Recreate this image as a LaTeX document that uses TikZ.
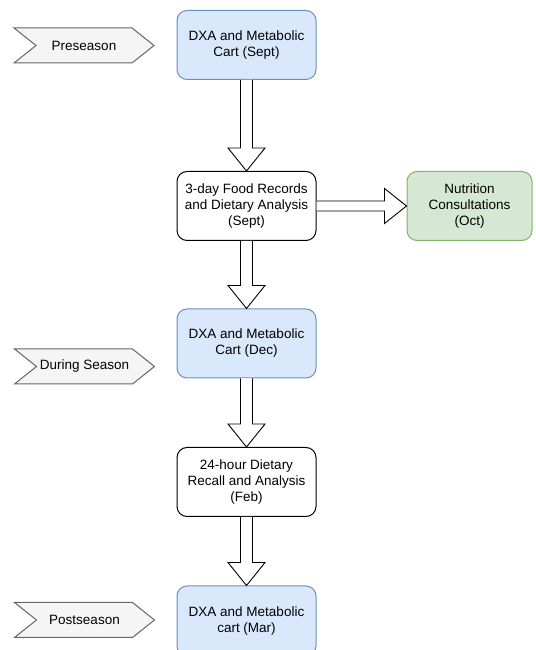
\documentclass[tikz,border=0pt]{standalone}
\usepackage{fontspec}
\setmainfont{Liberation Sans}
\usetikzlibrary{calc}
\definecolor{bluefill}{HTML}{DAE8FC}
\definecolor{blueline}{HTML}{6C8EBF}
\definecolor{greenfill}{HTML}{D5E8D4}
\definecolor{greenline}{HTML}{82B366}
\definecolor{grayfill}{HTML}{F5F5F5}
\definecolor{grayline}{HTML}{666666}
\tikzset{
  box/.style={draw, rounded corners=10pt, line width=1pt, minimum width=139pt,
    minimum height=69pt, align=center, inner sep=2pt,
    font=\fontsize{13.5}{16}\selectfont},
  bluebox/.style={box, fill=bluefill, draw=blueline},
  whitebox/.style={box, fill=white, draw=black},
  greenbox/.style={box, fill=greenfill, draw=greenline, minimum width=125pt},
  chevshape/.style={fill=grayfill, draw=grayline, line width=1pt},
  chevtext/.style={font=\fontsize{13.5}{16}\selectfont, inner sep=0pt},
  blockarrow/.style={draw=black, fill=white, line width=0.9pt, line join=miter},
}
\begin{document}
\begin{tikzpicture}[x=1pt,y=1pt]
\useasboundingbox (0,0) rectangle (535,650);
\clip (0,0) rectangle (535,650);
% boxes
\node[bluebox] (b1) at (246.5,605) {DXA and Metabolic\\Cart (Sept)};
\node[whitebox] (b2) at (246.5,444) {3-day Food Records\\and Dietary Analysis\\(Sept)};
\node[greenbox] (nut) at (469.5,444) {Nutrition\\Consultations\\(Oct)};
\node[bluebox] (b3) at (246.5,306.5) {DXA and Metabolic\\Cart (Dec)};
\node[whitebox] (b4) at (246.5,168) {24-hour Dietary\\Recall and Analysis\\(Feb)};
\node[bluebox, minimum height=70pt] (b5) at (246.5,29) {DXA and Metabolic\\cart (Mar)};
% chevrons
\coordinate (c1) at (84,604.5);
\coordinate (c2) at (84.5,283.5);
\coordinate (c3) at (84.5,30);
\foreach \c in {c1,c2,c3}{
  \draw[chevshape] ($(\c)+(-70,17.5)$) -- ++(118,0) -- ++(22,-17.5) -- ++(-22,-17.5)
    -- ++(-118,0) -- ++(22,17.5) -- cycle;
}
\node[chevtext] (pre) at (c1) {Preseason};
\node[chevtext] (dur) at (c2) {During Season};
\node[chevtext] (post) at (c3) {Postseason};
% vertical block arrows
\foreach \a/\b in {b1/b2,b2/b3,b3/b4,b4/b5}{
  \draw[blockarrow] ($(\a.south)+(-6,0)$) -- ($(\b.north)+(-6,23)$)
    -- ($(\b.north)+(-18.5,23)$) -- (\b.north) -- ($(\b.north)+(18.5,23)$)
    -- ($(\b.north)+(6,23)$) -- ($(\a.south)+(6,0)$);
}
% horizontal block arrow
\draw[blockarrow] ($(b2.east)+(0,5)$) -- ($(nut.west)+(-22,5)$)
  -- ($(nut.west)+(-22,17.5)$) -- (nut.west) -- ($(nut.west)+(-22,-17.5)$)
  -- ($(nut.west)+(-22,-5)$) -- ($(b2.east)+(0,-5)$);
\end{tikzpicture}
\end{document}
